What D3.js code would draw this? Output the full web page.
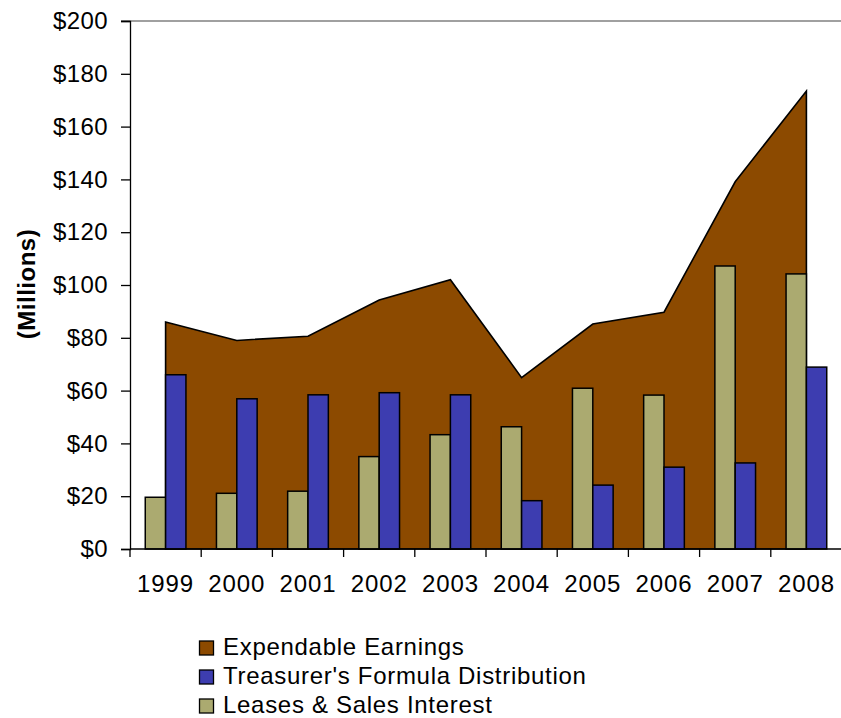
<!DOCTYPE html>
<html>
<head>
<meta charset="utf-8">
<script src="https://cdn.jsdelivr.net/npm/d3@7"></script>
<style>
  html, body { margin: 0; padding: 0; background: #ffffff; }
  svg { display: block; }
  text { font-family: "Liberation Sans", Arial, sans-serif; fill: #000; }
</style>
</head>
<body>
<svg id="chart" width="841" height="718"></svg>
<script>
const years = ["1999","2000","2001","2002","2003","2004","2005","2006","2007","2008"];
const expendableEarnings = [86, 79, 80.6, 94.3, 102, 64.9, 85.2, 89.7, 139.1, 173.5];
const treasurerDistribution = [66, 56.9, 58.4, 59.2, 58.4, 18.3, 24.2, 31, 32.6, 68.9];
const leasesSalesInterest = [19.6, 21.1, 21.9, 35, 43.3, 46.3, 60.9, 58.3, 107.2, 104.2];
const yTicks = [0, 20, 40, 60, 80, 100, 120, 140, 160, 180, 200];
const seriesNames = ["Expendable Earnings", "Treasurer's Formula Distribution", "Leases & Sales Interest"];
const colors = { earnings: "#8C4A00", treasurer: "#3D3DB0", leases: "#ABAA70" };

const svg = d3.select("#chart");
const plotLeft = 130, plotRight = 842, plotTop = 21, plotBottom = 549;

const x = d3.scaleBand().domain(years).range([plotLeft, plotRight]).paddingInner(0).paddingOuter(0);
const x1 = d3.scaleBand().domain(["leases", "treasurer"]).range([0, x.bandwidth()]).paddingInner(0).paddingOuter(0.75);
const y = d3.scaleLinear().domain([0, 200]).range([plotBottom, plotTop]);

// Top border line
svg.append("line")
  .attr("x1", 121).attr("x2", 841).attr("y1", y(200)).attr("y2", y(200))
  .attr("stroke", "#808080").attr("stroke-width", 1.5);

// Area
const area = d3.area()
  .x((d, i) => x(years[i]) + x.bandwidth() / 2)
  .y0(y(0))
  .y1(d => y(d));
svg.append("path")
  .datum(expendableEarnings)
  .attr("d", area)
  .attr("fill", colors.earnings)
  .attr("stroke", "#000")
  .attr("stroke-width", 1.6)
  .attr("stroke-linejoin", "miter");

// Bars
const barData = [];
years.forEach((yr, i) => {
  barData.push({ year: yr, key: "leases", value: leasesSalesInterest[i] });
  barData.push({ year: yr, key: "treasurer", value: treasurerDistribution[i] });
});
svg.append("g").selectAll("rect")
  .data(barData)
  .join("rect")
  .attr("x", d => x(d.year) + x1(d.key))
  .attr("width", x1.bandwidth())
  .attr("y", d => y(d.value))
  .attr("height", d => y(0) - y(d.value))
  .attr("fill", d => colors[d.key])
  .attr("stroke", "#000")
  .attr("stroke-width", 1.5);

// Y axis
const yAxis = d3.axisLeft(y).tickValues(yTicks).tickFormat(d => "$" + d).tickSize(9).tickPadding(13);
const gy = svg.append("g").attr("transform", `translate(${plotLeft},0)`).call(yAxis);
gy.select(".domain").attr("stroke", "#000").attr("stroke-width", 1.3);
gy.selectAll(".tick line").attr("stroke", "#000").attr("stroke-width", 1.3);
gy.selectAll(".tick text")
  .attr("font-family", "Liberation Sans, Arial, sans-serif")
  .attr("font-size", "24px")
  .attr("letter-spacing", "0.4px")
  .attr("fill", "#000");

// X axis
const gx = svg.append("g").attr("transform", `translate(0,${plotBottom})`);
gx.append("line").attr("x1", plotLeft).attr("x2", 841).attr("y1", 0).attr("y2", 0)
  .attr("stroke", "#000").attr("stroke-width", 1.3);
const boundaries = years.map(yr => x(yr));
gx.selectAll(".xtick").data(boundaries).join("line")
  .attr("class", "xtick")
  .attr("x1", d => d).attr("x2", d => d)
  .attr("y1", 0).attr("y2", 8)
  .attr("stroke", "#000").attr("stroke-width", 1.3);
gx.selectAll(".xlabel").data(years).join("text")
  .attr("class", "xlabel")
  .attr("x", d => x(d) + x.bandwidth() / 2)
  .attr("y", 43)
  .attr("text-anchor", "middle")
  .attr("font-size", "24px")
  .attr("letter-spacing", "0.9px")
  .text(d => d);

// Y axis title
svg.append("text")
  .attr("transform", "translate(35,284) rotate(-90)")
  .attr("text-anchor", "middle")
  .attr("font-size", "24px")
  .attr("font-weight", "bold")
  .attr("letter-spacing", "0.5px")
  .text("(Millions)");

// Legend
const legendColors = [colors.earnings, colors.treasurer, colors.leases];
const legendBaselines = [655, 684, 713];
const lg = svg.append("g");
seriesNames.forEach((name, i) => {
  lg.append("rect")
    .attr("x", 199.5).attr("y", legendBaselines[i] - 14)
    .attr("width", 14).attr("height", 14)
    .attr("fill", legendColors[i])
    .attr("stroke", "#000").attr("stroke-width", 1.3);
  lg.append("text")
    .attr("x", 223).attr("y", legendBaselines[i])
    .attr("font-size", "24px")
    .attr("letter-spacing", "0.7px")
    .text(name);
});
</script>
</body>
</html>
